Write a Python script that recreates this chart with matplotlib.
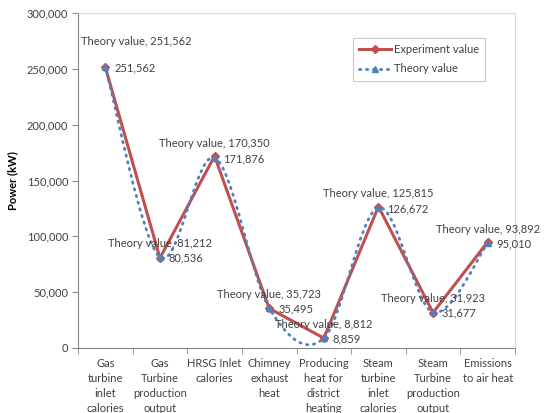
import matplotlib
matplotlib.use("Agg")

import numpy as np
import matplotlib.pyplot as plt
from matplotlib.path import Path
from matplotlib.patches import PathPatch
from matplotlib.lines import Line2D
from matplotlib.ticker import FuncFormatter, MultipleLocator, FixedLocator

categories = [
    "Gas\nturbine\ninlet\ncalories",
    "Gas\nTurbine\nproduction\noutput",
    "HRSG Inlet\ncalories",
    "Chimney\nexhaust\nheat",
    "Producing\nheat for\ndistrict\nheating",
    "Steam\nturbine\ninlet\ncalories",
    "Steam\nTurbine\nproduction\noutput",
    "Emissions\nto air heat",
]
experiment = [251562, 80536, 171876, 35495, 8859, 126672, 31677, 95010]
theory = [251562, 81212, 170350, 35723, 8812, 125815, 31923, 93892]

C_EXP = "#C0504D"
C_THEO = "#4F81BD"
C_TEXT = "#404040"
FONT = "Lato"

plt.rcParams["font.family"] = [FONT, "DejaVu Sans"]

fig = plt.figure(figsize=(5.46, 4.13), dpi=100)
ax = fig.add_axes([78 / 546, 1 - 348 / 413, 437 / 546, 335 / 413])

x = np.arange(len(categories))

# experiment: straight segments
ax.plot(x, experiment, color=C_EXP, lw=2.2, zorder=3)
ax.plot(x, experiment, ls="none", marker="D", ms=4, color=C_EXP, zorder=4)


# theory: Excel style smoothed line (bezier through the points)
def smooth_path(xs, ys):
    pts = np.column_stack([xs, ys]).astype(float)
    n = len(pts)
    verts = [pts[0]]
    codes = [Path.MOVETO]
    for i in range(n - 1):
        p0 = pts[i - 1] if i > 0 else pts[i]
        p1 = pts[i]
        p2 = pts[i + 1]
        p3 = pts[i + 2] if i + 2 < n else pts[i + 1]
        c1 = p1 + (p2 - p0) / 6.0
        c2 = p2 - (p3 - p1) / 6.0
        verts += [c1, c2, p2]
        codes += [Path.CURVE4] * 3
    return Path(verts, codes)


DOTS = (0, (0.5, 2.0))
patch = PathPatch(smooth_path(x, theory), fill=False, edgecolor=C_THEO, lw=2.0,
                  linestyle=DOTS, capstyle="round", zorder=5)
ax.add_patch(patch)
ax.plot(x, theory, ls="none", marker="^", ms=5, color=C_THEO, zorder=6)

# data labels
for i, (e, t) in enumerate(zip(experiment, theory)):
    dx, dy = (31, 26) if i == 0 else (0, 14)
    ax.annotate(f"Theory value, {t:,}", xy=(i, t), xytext=(dx, dy),
                textcoords="offset pixels", ha="center", va="center",
                fontsize=8, color=C_TEXT, zorder=7)
    ax.annotate(f"{e:,}", xy=(i, t), xytext=(9, -1),
                textcoords="offset pixels", ha="left", va="center",
                fontsize=8, color=C_TEXT, zorder=7)

ax.set_xlim(-0.5, len(categories) - 0.5)
ax.set_ylim(0, 300000)
ax.yaxis.set_major_locator(MultipleLocator(50000))
ax.yaxis.set_major_formatter(FuncFormatter(lambda v, p: f"{int(v):,}"))
ax.set_xticks(x)
ax.set_xticklabels(categories, fontsize=8, color=C_TEXT, linespacing=1.45)
ax.xaxis.set_minor_locator(FixedLocator(np.arange(-0.5, len(categories), 1.0)))
ax.tick_params(axis="x", which="major", length=0, pad=7)
ax.tick_params(axis="x", which="minor", length=4, color="#868686", direction="out")
ax.tick_params(axis="y", length=4, color="#868686", labelsize=8, labelcolor=C_TEXT, pad=3)

for s in ("left", "bottom"):
    ax.spines[s].set_color("#868686")
for s in ("top", "right"):
    ax.spines[s].set_color("#D9D9D9")

ax.set_ylabel("Power (kW)", fontsize=8, fontweight="bold", color="black")
ax.yaxis.set_label_coords((18 - 78) / 437, 0.5)

handles = [
    Line2D([], [], color=C_EXP, lw=2.2, marker="D", ms=4),
    Line2D([], [], color=C_THEO, lw=2.0, ls=DOTS, marker="^", ms=5,
           dash_capstyle="round"),
]
leg = fig.legend(handles, ["Experiment value", "Theory value"], loc="upper left",
                 bbox_to_anchor=(353 / 546, 1 - 38 / 413), fontsize=8,
                 frameon=True, fancybox=False, edgecolor="#BFBFBF",
                 handlelength=2.9, borderpad=0.55, borderaxespad=0,
                 labelspacing=0.75, handletextpad=0.25)
leg.get_frame().set_linewidth(0.8)
for t in leg.get_texts():
    t.set_color(C_TEXT)

fig.savefig("out.png", dpi=100)
